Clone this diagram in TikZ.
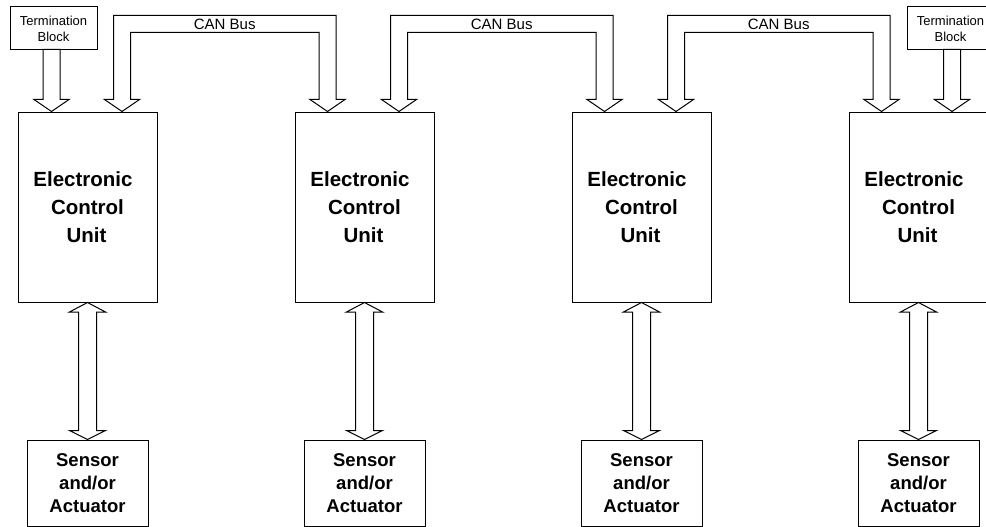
\documentclass[tikz,border=0pt]{standalone}
\usepackage{fontspec}
\setmainfont{Liberation Sans}
\usepackage{tikz}
\usetikzlibrary{calc,positioning}

\newcommand{\ecutext}{Electronic\hspace*{9pt}\\Control\hspace*{5pt}\\Unit\hspace*{2pt}}

\begin{document}
\begin{tikzpicture}[x=1pt, y=-1pt, line width=1pt,
  ecubox/.style={draw, rectangle, minimum width=139pt, minimum height=190pt,
    inner sep=0pt, align=center, font=\fontsize{20.5}{28}\selectfont\bfseries},
  sensorbox/.style={draw, rectangle, minimum width=121pt, minimum height=86pt,
    inner sep=0pt, align=center, font=\fontsize{18.5}{23}\selectfont\bfseries},
  termbox/.style={draw, rectangle, minimum width=87pt, minimum height=43pt,
    inner sep=0pt, align=center, font=\fontsize{13}{16}\selectfont},
  blockarrow/.style={draw, fill=white, line join=miter},
  buslabel/.style={inner sep=0pt, font=\fontsize{15}{18}\selectfont}]
  \useasboundingbox (0,0) rectangle (986,527);
  \clip (0,0) rectangle (986,527);

  % control units
  \node[ecubox] (ecu1) at (87.5,207)  {\ecutext};
  \node[ecubox] (ecu2) at (364.5,207) {\ecutext};
  \node[ecubox] (ecu3) at (641.5,207) {\ecutext};
  \node[ecubox] (ecu4) at (918.5,207) {\ecutext};

  % sensors
  \node[sensorbox] (sen1) at (87.5,483)  {Sensor\\and/or\\Actuator};
  \node[sensorbox] (sen2) at (364.5,483) {Sensor\\and/or\\Actuator};
  \node[sensorbox] (sen3) at (641.5,483) {Sensor\\and/or\\Actuator};
  \node[sensorbox] (sen4) at (918.5,483) {Sensor\\and/or\\Actuator};

  % termination
  \node[termbox] (termL) at (53.5,28.5)  {Termination\\Block};
  \node[termbox] (termR) at (950.5,28.5) {Termination\\Block};

  % CAN bus between neighbours
  \foreach \a/\b [count=\i] in {ecu1/ecu2, ecu2/ecu3, ecu3/ecu4} {
    \coordinate (s\i) at ($(\a.north east)+(-35.5,0)$);
    \coordinate (t\i) at ($(\b.north west)+(33,0)$);
    \draw[blockarrow] (s\i) -- ++(17.5,-12) -- ++(-9,0) |- ($(t\i)+(-8.5,-79)$)
      -- ++(0,67) -- ++(-9,0) -- (t\i) -- ++(17.5,-12) -- ++(-9,0)
      |- ($(s\i)+(-8.5,-96)$) -- ++(0,84) -- ++(-9,0) -- cycle;
    \node[buslabel] (bus\i) at ($(s\i)!0.5!(t\i)+(0,-87.5)$) {CAN Bus};
  }

  % termination arrows
  \coordinate (tL) at ($(ecu1.north west)+(34,0)$);
  \coordinate (tR) at ($(ecu4.north east)+(-36.5,0)$);
  \foreach \p in {tL,tR}
    \draw[blockarrow] (\p) -- ++(17.5,-12) -- ++(-9,0) -- ++(0,-50)
      -- ++(-17,0) -- ++(0,50) -- ++(-9,0) -- cycle;

  % unit <-> sensor
  \foreach \i in {1,...,4}
    \draw[blockarrow] (ecu\i.south) -- ++(18,9.5) -- ++(-9,0)
      -- ($(sen\i.north)+(9,-9)$) -- ++(9,0) -- (sen\i.north) -- ++(-18,-9)
      -- ++(9,0) -- ($(ecu\i.south)+(-9,9.5)$) -- ++(-9,0) -- cycle;
\end{tikzpicture}
\end{document}
